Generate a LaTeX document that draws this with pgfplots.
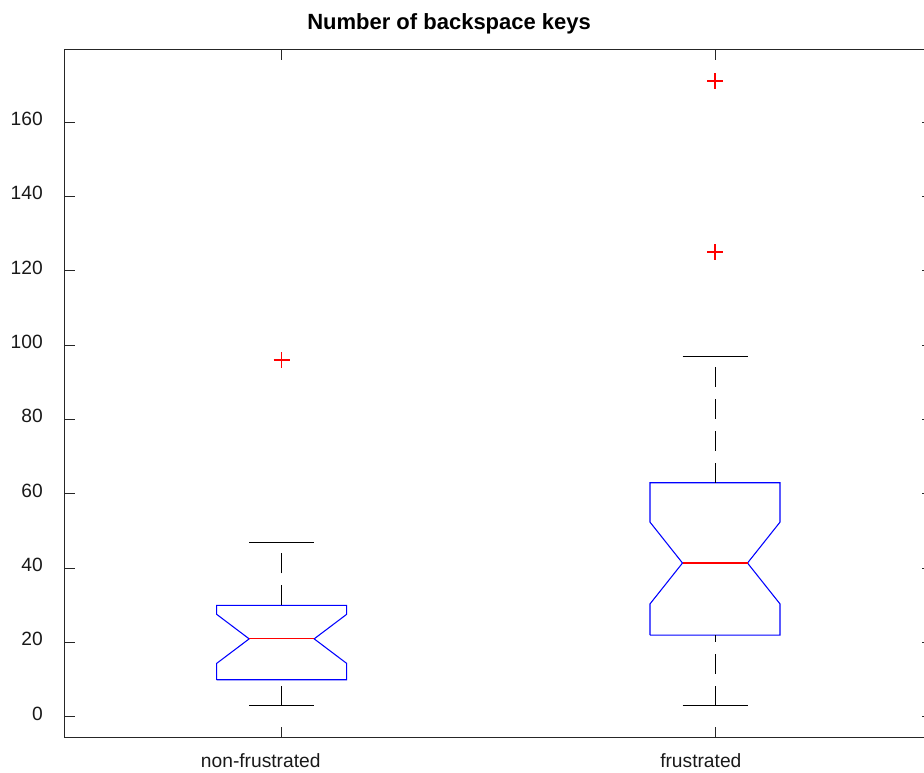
\documentclass[border=0pt]{standalone}
\usepackage{pgfplots}
\pgfplotsset{compat=1.18}
\usepackage{fontspec}
\setmainfont{Liberation Sans}
\newcommand\mlbl[1]{\sbox0{#1}\copy0\hspace*{.35\wd0}}
\begin{document}
\begin{tikzpicture}
\begin{axis}[
  scale only axis,
  width=650pt, height=515.25pt,
  xmin=0.5, xmax=2.5, ymin=-5.4, ymax=179.4,
  xtick={1,2}, xticklabels={\mlbl{non-frustrated},\mlbl{frustrated}},
  ytick={0,20,...,160},
  tick align=inside,
  major tick length=7.5pt,
  axis line style={black!85, line width=0.75pt},
  every tick/.style={black!85, line width=0.75pt},
  /pgf/number format/assume math mode=true,
  tick label style={font=\fontsize{14.4}{17}\selectfont, text=black!90},
  yticklabel style={anchor=east, inner sep=0pt, xshift=-16.5pt, yshift=2.5pt},
  xticklabel style={anchor=base, inner sep=0pt, yshift=-22.5pt},
  title={Number of backspace keys},
  title style={font=\bfseries\fontsize{16.5}{20}\selectfont, anchor=base, inner sep=0pt, at={(0.4432,1)}, yshift=9pt},
  clip=false,
]
\coordinate (sw) at (rel axis cs:0,0);
% Box 1: non-frustrated
\addplot[blue, line width=0.8pt, line join=miter, mark=none] coordinates {
 (0.85,10) (1.15,10) (1.15,14.4) (1.075,21) (1.15,27.6) (1.15,30)
 (0.85,30) (0.85,27.6) (0.925,21) (0.85,14.4) (0.85,10)};
\addplot[red, line width=0.8pt, mark=none] coordinates {(0.925,21) (1.075,21)};
\addplot[black, line width=0.75pt, dash pattern=on 15pt off 9pt, mark=none] coordinates {(1,3) (1,10)};
\addplot[black, line width=0.75pt, dash pattern=on 15pt off 9pt, mark=none] coordinates {(1,30) (1,47)};
\addplot[black, line width=0.75pt, mark=none] coordinates {(0.925,3) (1.075,3)};
\addplot[black, line width=0.75pt, mark=none] coordinates {(0.925,47) (1.075,47)};
\addplot[only marks, mark=+, red, mark size=6pt, line width=1.1pt] coordinates {(1,96)};
% Box 2: frustrated
\addplot[blue, line width=0.8pt, line join=miter, mark=none] coordinates {
 (1.85,22) (2.15,22) (2.15,30.4) (2.075,41.4) (2.15,52.4) (2.15,63)
 (1.85,63) (1.85,52.4) (1.925,41.4) (1.85,30.4) (1.85,22)};
\addplot[red, line width=0.8pt, mark=none] coordinates {(1.925,41.4) (2.075,41.4)};
\addplot[black, line width=0.75pt, dash pattern=on 15pt off 9pt, mark=none] coordinates {(2,3) (2,22)};
\addplot[black, line width=0.75pt, dash pattern=on 15pt off 9pt, mark=none] coordinates {(2,63) (2,97)};
\addplot[black, line width=0.75pt, mark=none] coordinates {(1.925,3) (2.075,3)};
\addplot[black, line width=0.75pt, mark=none] coordinates {(1.925,97) (2.075,97)};
\addplot[only marks, mark=+, red, mark size=6pt, line width=1.1pt] coordinates {(2,125) (2,171)};
\end{axis}
\pgfresetboundingbox
\path (sw) ++(-48.75pt,-26.25pt) rectangle ++(693pt,579pt);
\end{tikzpicture}
\end{document}
